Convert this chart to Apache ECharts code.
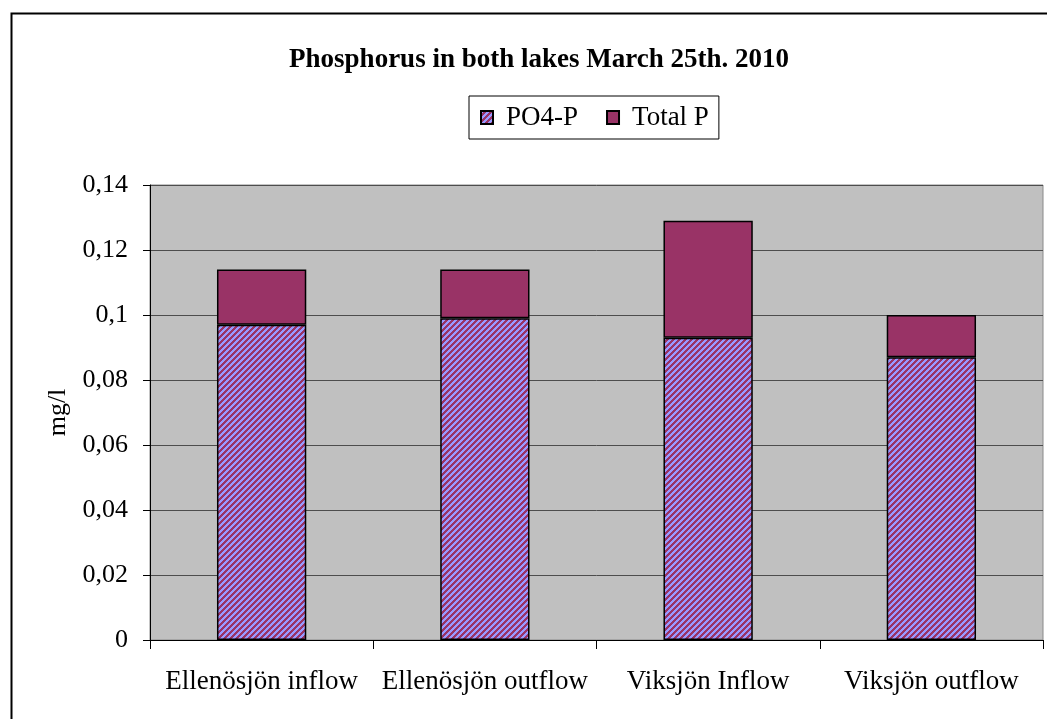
<!DOCTYPE html>
<html>
<head>
<meta charset="utf-8">
<script src="https://cdn.jsdelivr.net/npm/echarts@6/dist/echarts.min.js"></script>
<style>
  html, body { margin: 0; padding: 0; background: #fff; }
  #chart { width: 1047px; height: 719px; }
</style>
</head>
<body>
<div id="chart"></div>
<script>
// Sampling sites
const categories = ['Ellenösjön inflow', 'Ellenösjön outflow', 'Viksjön Inflow', 'Viksjön outflow'];
// Dissolved phosphate phosphorus, mg/l
const po4P = [0.097, 0.099, 0.093, 0.087];
// Total phosphorus, mg/l (top of each stacked column)
const totalP = [0.114, 0.114, 0.129, 0.100];
// Value axis ticks
const yTicks = [0, 0.02, 0.04, 0.06, 0.08, 0.1, 0.12, 0.14];

// Part of total P that is not PO4-P, stacked above the PO4-P segment
const totalPRest = totalP.map((t, i) => Math.round((t - po4P[i]) * 1000) / 1000);

// Diagonal hatch: purple and periwinkle stripes
function hatch() {
  const p = 6;
  const c = document.createElement('canvas');
  c.width = p; c.height = p;
  const ctx = c.getContext('2d');
  for (let x = 0; x < p; x++) {
    for (let y = 0; y < p; y++) {
      ctx.fillStyle = ((x + y) % p) < 3 ? '#9999FF' : '#993366';
      ctx.fillRect(x, y, 1, 1);
    }
  }
  return c;
}
const hatchFill = { image: hatch(), repeat: 'repeat' };

const font = 'Liberation Serif';
const chart = echarts.init(document.getElementById('chart'), null, { renderer: 'canvas' });

chart.setOption({
  animation: false,
  backgroundColor: '#ffffff',
  title: {
    text: 'Phosphorus in both lakes March 25th. 2010',
    left: 534,
    top: 42,
    textAlign: 'center',
    textStyle: { fontFamily: font, fontWeight: 'bold', fontSize: 27, color: '#000' }
  },
  legend: {
    left: 469,
    top: 96,
    orient: 'horizontal',
    padding: [8, 10, 8, 11],
    borderColor: '#000',
    borderWidth: 1,
    backgroundColor: '#fff',
    itemWidth: 12,
    itemHeight: 13,
    itemGap: 28,
    textStyle: { fontFamily: font, fontSize: 27, color: '#000', padding: [0, 0, 0, 8] },
    data: [
      { name: 'PO4-P', icon: 'rect' },
      { name: 'Total P', icon: 'rect' }
    ]
  },
  grid: {
    left: 150, right: 4, top: 185, bottom: 79,
    show: true,
    backgroundColor: '#C0C0C0',
    borderColor: '#8a8a8a',
    borderWidth: 1
  },
  xAxis: {
    type: 'category',
    data: categories,
    axisLine: { lineStyle: { color: '#000', width: 1 } },
    axisTick: { show: true, interval: 0, alignWithLabel: false, length: 9, lineStyle: { color: '#000' } },
    axisLabel: { interval: 0, fontFamily: font, fontSize: 27, color: '#000', margin: 28 }
  },
  yAxis: {
    type: 'value',
    min: yTicks[0],
    max: yTicks[yTicks.length - 1],
    interval: 0.02,
    name: 'mg/l',
    nameLocation: 'middle',
    nameGap: 78,
    nameRotate: 90,
    nameTextStyle: { fontFamily: font, fontSize: 26, color: '#000' },
    axisLine: { show: true, lineStyle: { color: '#000', width: 1 } },
    axisTick: { show: true, length: 7, lineStyle: { color: '#000' } },
    splitLine: { show: true, lineStyle: { color: '#4d4d4d', width: 1 } },
    axisLabel: {
      fontFamily: font, fontSize: 26, color: '#000', margin: 22,
      formatter: v => {
        const t = yTicks.find(k => Math.abs(k - v) < 1e-9);
        return String(t !== undefined ? t : v).replace('.', ',');
      }
    }
  },
  series: [
    {
      name: 'PO4-P',
      type: 'bar',
      stack: 'p',
      barWidth: '40%',
      data: po4P,
      itemStyle: { color: hatchFill, borderColor: '#000', borderWidth: 1.5 }
    },
    {
      name: 'Total P',
      type: 'bar',
      stack: 'p',
      barWidth: '40%',
      data: totalPRest,
      itemStyle: { color: '#993366', borderColor: '#000', borderWidth: 1.5 }
    }
  ],
  graphic: [
    {
      type: 'rect',
      left: 9, top: 11,
      shape: { x: 0, y: 0, width: 1037, height: 730 },
      style: { fill: 'none', stroke: '#000', lineWidth: 2 },
      silent: true,
      z: -1
    }
  ]
});
</script>
</body>
</html>
